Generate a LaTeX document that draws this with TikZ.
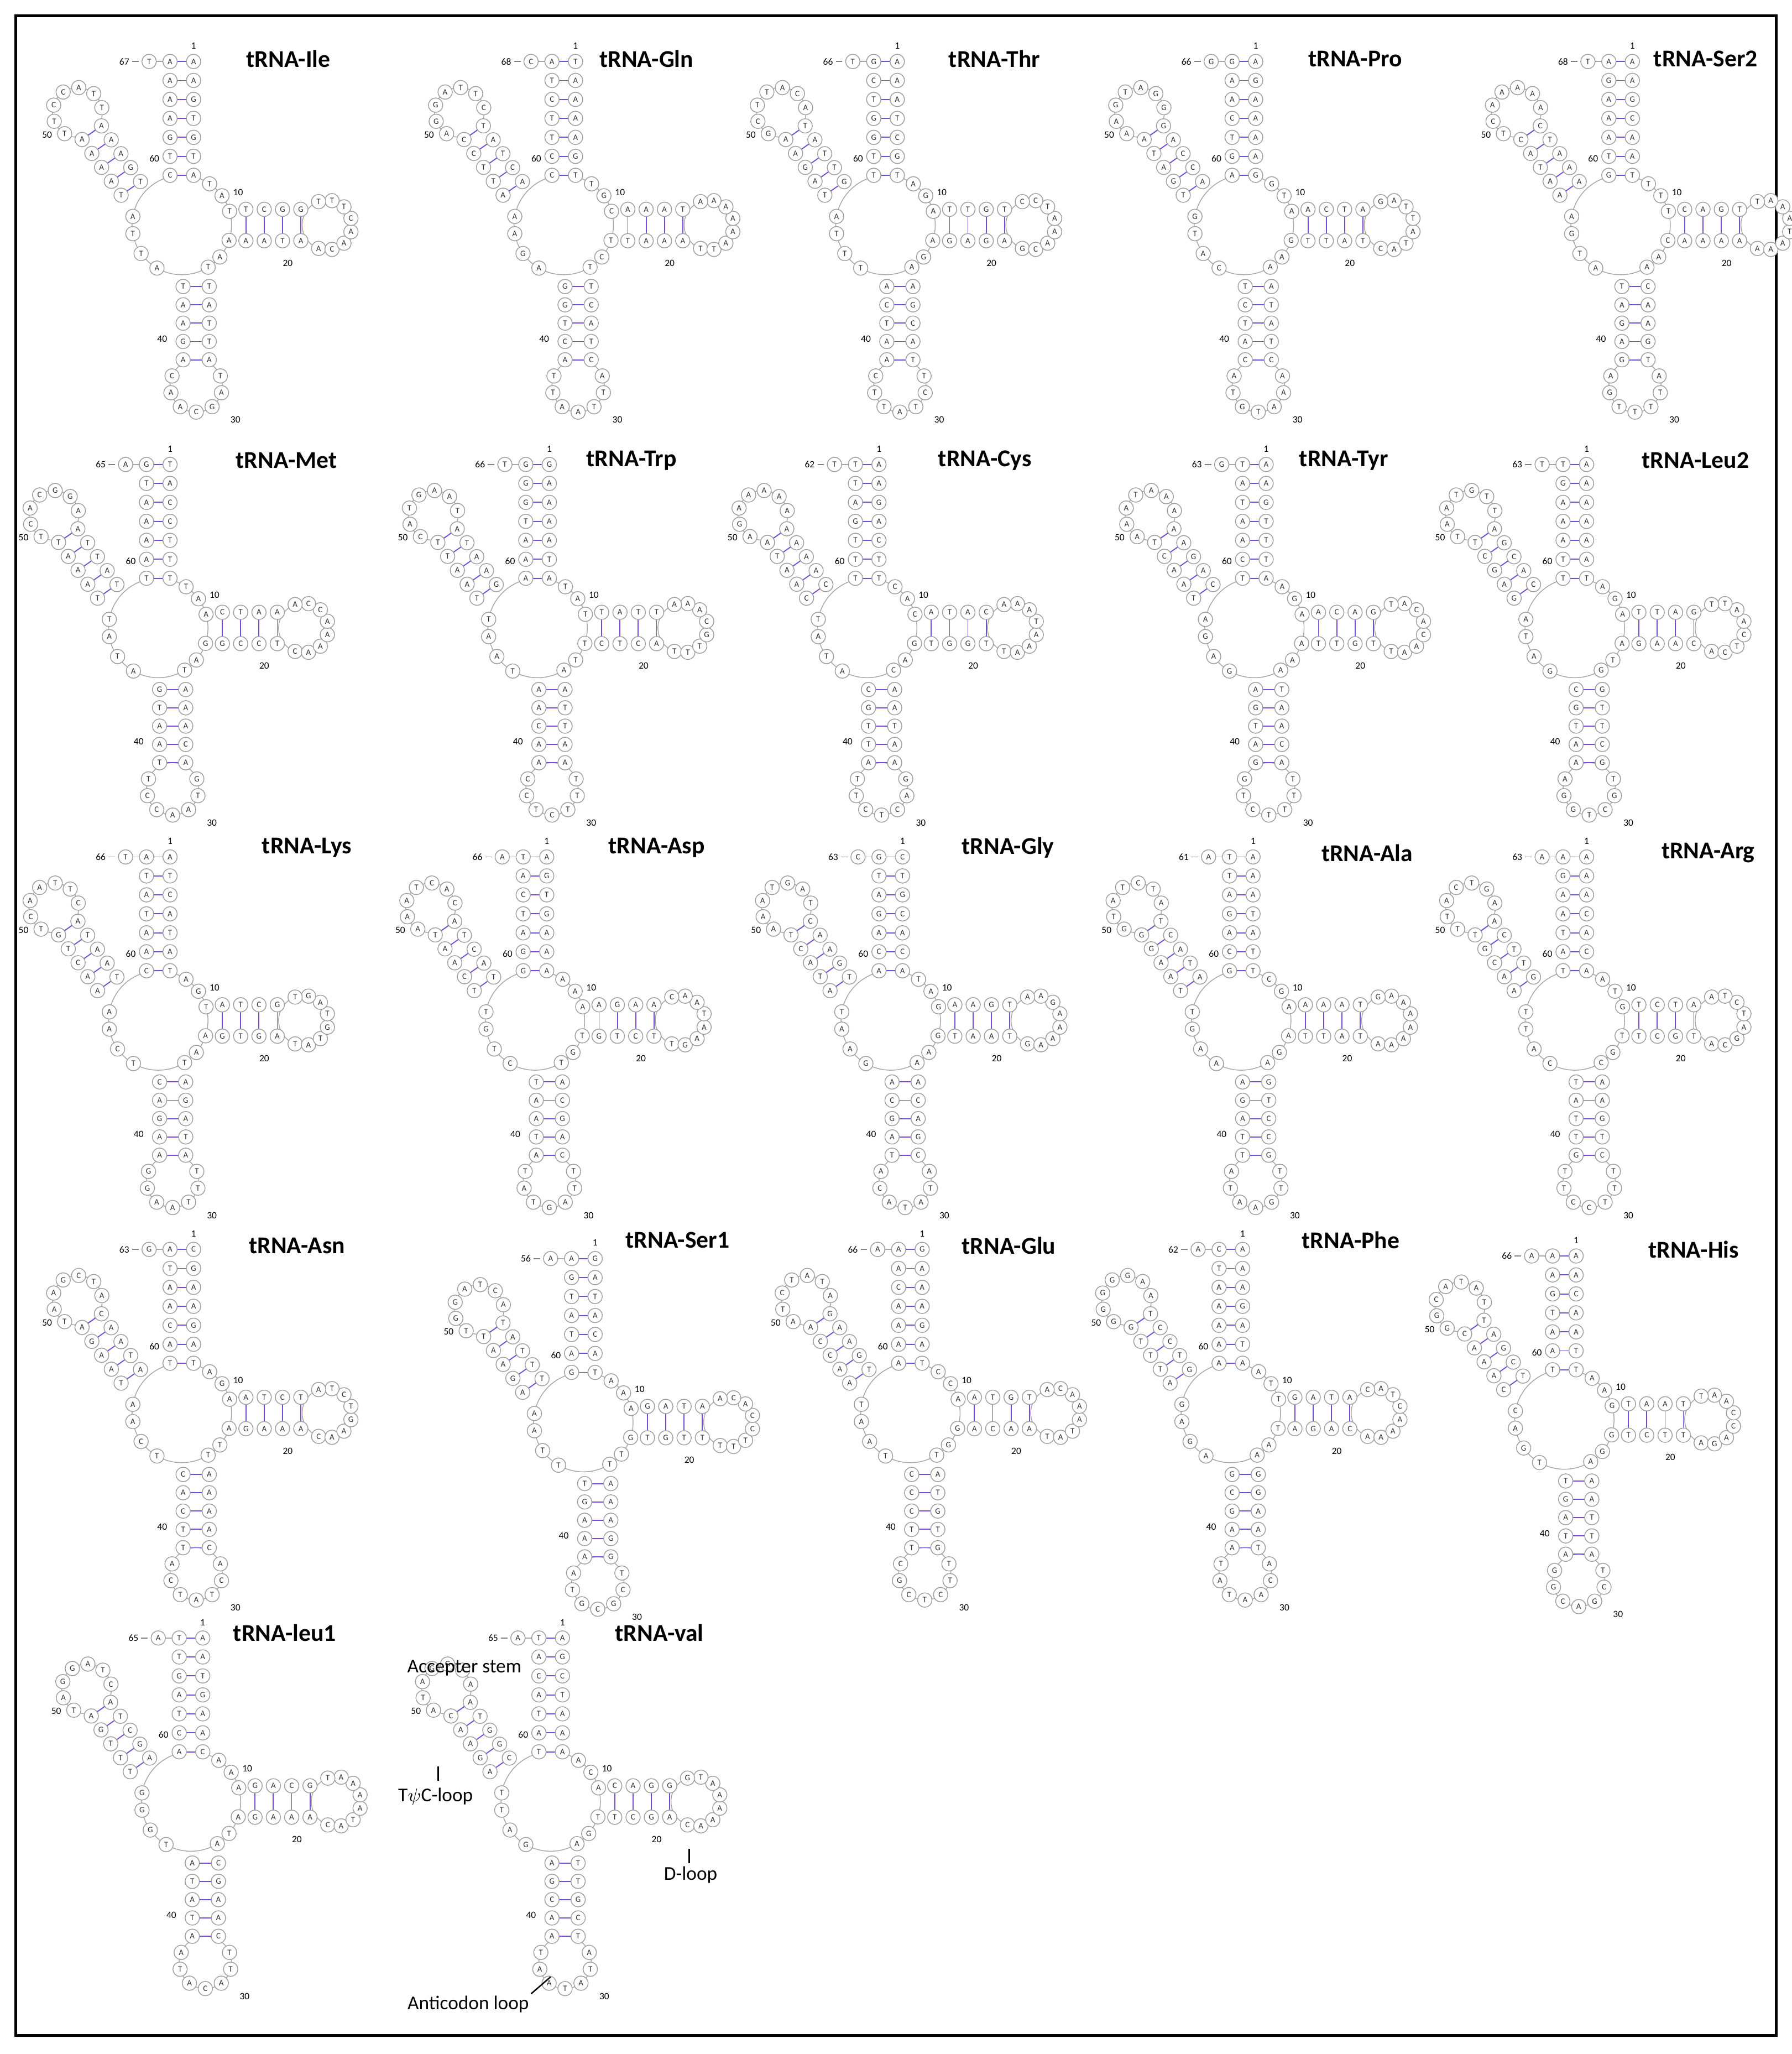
\documentclass[tikz,border=0pt]{standalone}
\usepackage{fontspec}
\setmainfont{Carlito}
\begin{document}
\pgfmathsetseed{7}
\pgfmathdeclarerandomlist{nts}{{A}{T}{G}{C}{A}{T}{A}}
\tikzset{
 nt/.style={circle,draw=gray!75,line width=0.35pt,fill=white,inner sep=0pt,minimum size=0.22cm,font=\fontsize{3.6}{4}\selectfont,text=black!80},
 pair/.style={draw=blue!55!violet!70,line width=0.45pt},
 num/.style={font=\fontsize{4.2}{5}\selectfont,inner sep=0.5pt},
 title/.style={font=\bfseries\fontsize{10.5}{12}\selectfont,anchor=west,inner sep=0pt},
 ann/.style={font=\fontsize{8.5}{10}\selectfont,inner sep=0pt}
}
\newcommand\nt[1]{\pgfmathrandomitem\L{nts}\node[nt] at (#1) {\L};}
\newcommand\stem[7]{\foreach \k in {1,...,#7}{%
  \pgfmathsetmacro\px{#1+(\k-1)*(#3)}\pgfmathsetmacro\py{#2+(\k-1)*(#4)}%
  \draw[pair] (\px+#5,\py+#6) -- (\px-#5,\py-#6);
  \nt{\px+#5,\py+#6}\nt{\px-#5,\py-#6}}}
\newcommand\loopn[6]{\foreach \i in {1,...,#6}{%
  \pgfmathsetmacro\aa{#4+#5+\i*(360-2*#5)/(#6+1)}%
  \nt{{#1+#3*cos(\aa)},{#2-#3*sin(\aa)}}}}
\newcommand\trna[3]{\begin{scope}[shift={(#1,#2)}]
  \draw[gray!70,line width=0.35pt] (-9,125) circle (38);
  \draw[gray!70,line width=0.35pt] (102,125) circle (19);
  \draw[gray!70,line width=0.35pt] (2,248) circle (20);
  \draw[gray!70,line width=0.35pt] (-88.8,38.9) circle (19);
  \draw[gray!70,line width=0.35pt] (-18,0)--(-34,0);
  \stem{-9}{0}{0}{14.5}{9}{0}{7}
  \nt{-34,0}
  \draw[gray] (-42,0)--(-47,0);
  \node[num,anchor=east] at (-48,0) {#3};
  \foreach \a in {56,36,16,-18,-40,-58,-120,-145,-170,170}{\nt{{-9+38*cos(\a)},{125-38*sin(\a)}}}
  \stem{40}{125}{14}{0}{0}{-12}{4}
  \loopn{102}{125}{19}{180}{39}{8}
  \stem{2}{172}{0}{14}{10}{0}{5}
  \loopn{2}{248}{20}{90}{30}{7}
  \stem{-48}{97}{-7.46}{-10.65}{-7.4}{5.2}{5}
  \loopn{-88.8}{38.9}{19}{-55}{28}{7}
  \node[num] at (0,-12) {1};
  \node[num] at (34,100) {10};
  \node[num] at (72,154) {20};
  \node[num] at (32,274) {30};
  \node[num] at (-24,212) {40};
  \node[num] at (-112,56) {50};
  \node[num] at (-30,74) {60};
\end{scope}}
\begin{tikzpicture}[x=0.02cm,y=-0.02cm]
\useasboundingbox (0,0) rectangle (1370,1570);
\draw[line width=1.2pt] (12,12) rectangle (1358,1556);
% row 1
\trna{148}{47}{67}\node[title] at (188,45) {tRNA-Ile};
\trna{440}{47}{68}\node[title] at (458,45) {tRNA-Gln};
\trna{686}{47}{66}\node[title] at (725,45) {tRNA-Thr};
\trna{960}{47}{66}\node[title] at (1000,45) {tRNA-Pro};
\trna{1248}{47}{68}\node[title] at (1264,45) {tRNA-Ser2};
% row 2
\trna{130}{355}{65}\node[title] at (180,352) {tRNA-Met};
\trna{420}{355}{66}\node[title] at (448,352) {tRNA-Trp};
\trna{672}{355}{62}\node[title] at (717,352) {tRNA-Cys};
\trna{968}{355}{63}\node[title] at (993,352) {tRNA-Tyr};
\trna{1213}{355}{63}\node[title] at (1255,352) {tRNA-Leu2};
% row 3
\trna{130}{655}{66}\node[title] at (200,648) {tRNA-Lys};
\trna{418}{655}{66}\node[title] at (465,648) {tRNA-Asp};
\trna{690}{655}{63}\node[title] at (735,648) {tRNA-Gly};
\trna{958}{655}{61}\node[title] at (1010,652) {tRNA-Ala};
\trna{1213}{655}{63}\node[title] at (1270,652) {tRNA-Arg};
% row 4
\trna{148}{955}{63}\node[title] at (190,952) {tRNA-Asn};
\trna{455}{962}{56}\node[title] at (478,948) {tRNA-Ser1};
\trna{705}{955}{66}\node[title] at (735,952) {tRNA-Glu};
\trna{950}{955}{62}\node[title] at (995,948) {tRNA-Phe};
\trna{1205}{960}{66}\node[title] at (1260,955) {tRNA-His};
% row 5
\trna{155}{1252}{65}\node[title] at (178,1248) {tRNA-leu1};
\trna{430}{1252}{65}\node[title] at (470,1248) {tRNA-val};
% annotations
\node[ann] (acc) at (355,1275) {Accepter stem};
\node[ann] (tpc) at (333,1373) {T$\psi$C-loop};
\coordinate (tpcA) at (335,1350); \coordinate (tpcB) at (335,1361);
\draw[line width=0.6pt] (tpcA)--(tpcB);
\node[ann] (dl) at (528,1433) {D-loop};
\coordinate (dlA) at (527,1413); \coordinate (dlB) at (527,1424);
\draw[line width=0.6pt] (dlA)--(dlB);
\node[ann] (ac) at (358,1532) {Anticodon loop};
\coordinate (acA) at (406,1524); \coordinate (acB) at (421,1511);
\draw[line width=0.6pt] (acA)--(acB);
\end{tikzpicture}
\end{document}
